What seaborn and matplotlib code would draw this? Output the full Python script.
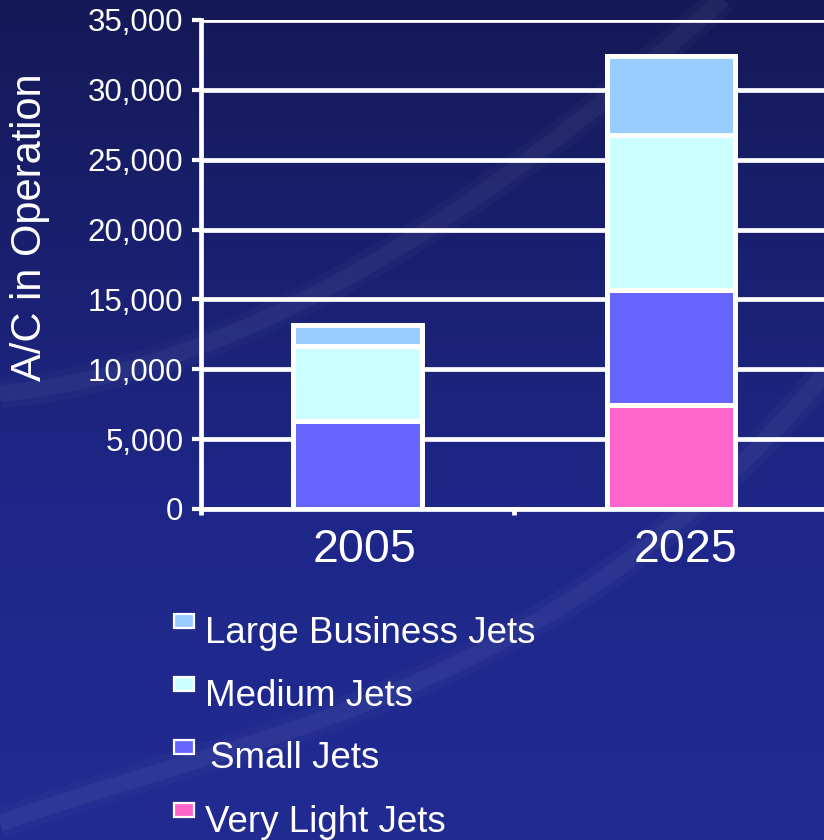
import numpy as np
import pandas as pd
import matplotlib
matplotlib.use("Agg")
import matplotlib.pyplot as plt
from matplotlib.patches import Rectangle
import seaborn as sns

# ---- data ----
years = ["2005", "2025"]
very_light_jets = [0, 7450]
small_jets = [6300, 8200]
medium_jets = [5400, 11100]
large_business_jets = [1450, 5650]
series_names = ["Large Business Jets", "Medium Jets", "Small Jets", "Very Light Jets"]
series_colors = ["#99CCFF", "#CCFFFF", "#6666FF", "#FF66CC"]
y_ticks = [0, 5000, 10000, 15000, 20000, 25000, 30000, 35000]

sns.set_theme(style="white")
plt.rcParams["font.family"] = ["Liberation Sans", "DejaVu Sans"]

W, H = 824, 840
fig = plt.figure(figsize=(W / 100, H / 100), dpi=100)

# ---- background ----
bg = fig.add_axes([0, 0, 1, 1], zorder=-10)
bg.set_xlim(0, W)
bg.set_ylim(H, 0)
bg.axis("off")
top = np.array([0x15, 0x19, 0x57]) / 255
mid = np.array([0x1e, 0x27, 0x88]) / 255
bot = np.array([0x21, 0x2b, 0x92]) / 255
yy = np.linspace(0, 1, 300)[:, None]
col = np.where(yy < 0.6, top + (mid - top) * (yy / 0.6), mid + (bot - mid) * ((yy - 0.6) / 0.4))
img = np.repeat(col[:, None, :], 2, axis=1).reshape(300, 2, 3)
bg.imshow(img, extent=[0, W, H, 0], aspect="auto", interpolation="bilinear")
arc1_x = [0, 180, 313, 450, 560, 650, 730]
arc1_y = [395, 347, 300, 220, 130, 60, -5]
arc2_x = [0, 160, 360, 560, 690, 780, 830]
arc2_y = [820, 780, 700, 600, 520, 430, 360]
for ax_, ay_ in [(arc1_x, arc1_y), (arc2_x, arc2_y)]:
    coef = np.polyfit(ax_, ay_, 3)
    xs = np.linspace(min(ax_), max(ax_), 200)
    for lw, a in [(22, 0.025), (12, 0.04)]:
        bg.plot(xs, np.polyval(coef, xs), color="white", alpha=a, lw=lw,
                solid_capstyle="butt")

# ---- main axes ----
left = 200.75 / W
bottom = (H - 509) / H
height = (509 - 20) / H
ax = fig.add_axes([left, bottom, 1 - left, height])
ax.set_facecolor("none")

cum_vlj = np.array(very_light_jets)
cum_small = cum_vlj + np.array(small_jets)
cum_medium = cum_small + np.array(medium_jets)
cum_large = cum_medium + np.array(large_business_jets)

for cum, c in zip([cum_large, cum_medium, cum_small, cum_vlj], series_colors):
    df = pd.DataFrame({"year": years, "value": cum})
    sns.barplot(data=df, x="year", y="value", color=c, saturation=1,
                width=0.41, edgecolor="white", linewidth=3.6, ax=ax, zorder=3)

ax.set_ylim(0, 35000)
ax.set_xlim(-0.5, 1.488)
ax.set_yticks(y_ticks)
ax.set_yticklabels([f"{v:,}" for v in y_ticks])
ax.yaxis.grid(True, color="white", lw=3.4, zorder=0)
ax.xaxis.grid(False)
ax.set_axisbelow(True)
for s in ["top", "right"]:
    ax.spines[s].set_visible(False)
for s in ["left", "bottom"]:
    ax.spines[s].set_color("white")
    ax.spines[s].set_linewidth(3.4)
ax.tick_params(axis="y", which="major", direction="out", length=6.5, width=3,
               color="white", labelcolor="white", labelsize=22.5, pad=6, left=True)
ax.set_xticks([0.024, 1.045])
ax.set_xticklabels(years)
ax.tick_params(axis="x", which="major", length=0, labelcolor="white", labelsize=33.5, pad=14)
ax.set_xticks([-0.5, 0.5], minor=True)
ax.tick_params(axis="x", which="minor", direction="out", length=4.5, width=3.4,
               color="white", bottom=True)
ax.set_xlabel("")
ax.set_ylabel("")

fig.text(30 / W, 1 - 227.5 / H, "A/C in Operation", rotation=90, ha="center",
         va="center", fontsize=30, color="white")

# ---- legend ----
leg_rows = [(613, 205, 643), (676, 205, 706), (739, 210, 768), (802, 205, 832)]
for (my, tx, ty), name, c in zip(leg_rows, series_names, series_colors):
    fig.patches.append(Rectangle((174 / W, 1 - (my + 15) / H), 20 / W, 14 / H,
                                 transform=fig.transFigure, facecolor=c,
                                 edgecolor="white", linewidth=1.6))
    fig.text(tx / W, 1 - ty / H, name, ha="left", va="baseline", fontsize=26.5,
             color="white")

fig.savefig("out.png", dpi=100)
